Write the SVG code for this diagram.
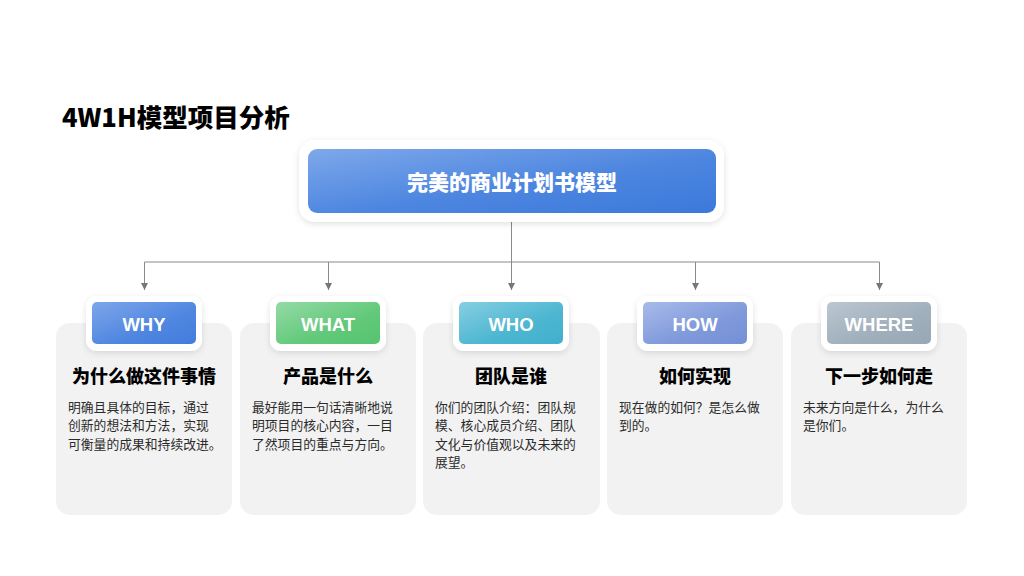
<svg xmlns="http://www.w3.org/2000/svg" width="1024" height="576" viewBox="0 0 1024 576">
<defs>
<style>
.title{font-family:"Noto Sans CJK SC","Liberation Sans",sans-serif;font-weight:900;font-size:25.5px;fill:#000}
.main{font-family:"Noto Sans CJK SC","Liberation Sans",sans-serif;font-weight:900;font-size:21px;fill:#fff;text-anchor:middle}
.badge{font-family:"Liberation Sans","Noto Sans CJK SC",sans-serif;font-weight:700;font-size:18.5px;fill:#fff;text-anchor:middle}
.head{font-family:"Noto Sans CJK SC","Liberation Sans",sans-serif;font-weight:900;font-size:18px;fill:#000;text-anchor:middle}
.body{font-family:"Noto Sans CJK SC","Liberation Sans",sans-serif;font-size:12.8px;fill:#2b2b2b}
.card{fill:#f2f2f2}
.frame{fill:#fff;filter:url(#sh)}
.line{stroke:#8a8a8a;stroke-width:1;fill:none}
</style>
<filter id="sh" x="-20%" y="-30%" width="140%" height="160%">
<feDropShadow dx="0" dy="2" stdDeviation="3" flood-color="#000" flood-opacity="0.12"/>
</filter>
<marker id="arr" viewBox="0 0 10 10" refX="10" refY="5" markerWidth="7" markerHeight="7" markerUnits="userSpaceOnUse" orient="auto">
<path d="M0,0 L10,5 L0,10 z" fill="#777"/>
</marker>
<linearGradient id="gMain" x1="0" y1="0" x2="1" y2="1">
<stop offset="0" stop-color="#7ea8ea"/><stop offset="0.55" stop-color="#4d86e0"/><stop offset="1" stop-color="#3b79da"/>
</linearGradient>
<linearGradient id="gWhy" x1="0" y1="0" x2="1" y2="1">
<stop offset="0" stop-color="#7ea6ea"/><stop offset="0.6" stop-color="#4f86e0"/><stop offset="1" stop-color="#427cdc"/>
</linearGradient>
<linearGradient id="gWhat" x1="0" y1="0" x2="1" y2="1">
<stop offset="0" stop-color="#94dba5"/><stop offset="0.6" stop-color="#62c97a"/><stop offset="1" stop-color="#55c46f"/>
</linearGradient>
<linearGradient id="gWho" x1="0" y1="0" x2="1" y2="1">
<stop offset="0" stop-color="#86cfe2"/><stop offset="0.6" stop-color="#4db6d1"/><stop offset="1" stop-color="#41b0cd"/>
</linearGradient>
<linearGradient id="gHow" x1="0" y1="0" x2="1" y2="1">
<stop offset="0" stop-color="#a8bbea"/><stop offset="0.6" stop-color="#7f99da"/><stop offset="1" stop-color="#7590d6"/>
</linearGradient>
<linearGradient id="gWhere" x1="0" y1="0" x2="1" y2="1">
<stop offset="0" stop-color="#bbc7d1"/><stop offset="0.6" stop-color="#a0afbc"/><stop offset="1" stop-color="#97a7b5"/>
</linearGradient>
</defs>
<rect width="1024" height="576" fill="#fff"/>
<text class="title" x="62" y="127">4W1H模型项目分析</text>

<g id="connectors">
<line class="line" x1="511.5" y1="221" x2="511.5" y2="262"/>
<line class="line" x1="144.5" y1="262" x2="879.5" y2="262"/>
<line class="line" x1="144.5" y1="262" x2="144.5" y2="290" marker-end="url(#arr)"/>
<line class="line" x1="328.5" y1="262" x2="328.5" y2="290" marker-end="url(#arr)"/>
<line class="line" x1="511.5" y1="262" x2="511.5" y2="290" marker-end="url(#arr)"/>
<line class="line" x1="695.5" y1="262" x2="695.5" y2="290" marker-end="url(#arr)"/>
<line class="line" x1="879.5" y1="262" x2="879.5" y2="290" marker-end="url(#arr)"/>
</g>

<g id="root">
<rect class="frame" x="299" y="140" width="425" height="82" rx="16"/>
<rect x="308" y="149" width="408" height="64" rx="9" fill="url(#gMain)"/>
<text class="main" x="512" y="190">完美的商业计划书模型</text>
</g>

<g id="why">
<rect class="card" x="56" y="323" width="176" height="192" rx="14"/>
<rect class="frame" x="86" y="296" width="116" height="55" rx="11"/>
<rect x="92" y="302" width="104" height="42" rx="5" fill="url(#gWhy)"/>
<text class="badge" x="144" y="330.5">WHY</text>
<text class="head" x="144" y="383">为什么做这件事情</text>
<text class="body" x="68" y="411.5">明确且具体的目标，通过</text>
<text class="body" x="68" y="430">创新的想法和方法，实现</text>
<text class="body" x="68" y="448.5">可衡量的成果和持续改进。</text>
</g>

<g id="what">
<rect class="card" x="240" y="323" width="176" height="192" rx="14"/>
<rect class="frame" x="270" y="296" width="116" height="55" rx="11"/>
<rect x="276" y="302" width="104" height="42" rx="5" fill="url(#gWhat)"/>
<text class="badge" x="328" y="330.5">WHAT</text>
<text class="head" x="328" y="383">产品是什么</text>
<text class="body" x="252" y="411.5">最好能用一句话清晰地说</text>
<text class="body" x="252" y="430">明项目的核心内容，一目</text>
<text class="body" x="252" y="448.5">了然项目的重点与方向。</text>
</g>

<g id="who">
<rect class="card" x="423" y="323" width="177" height="192" rx="14"/>
<rect class="frame" x="453" y="296" width="116" height="55" rx="11"/>
<rect x="459" y="302" width="104" height="42" rx="5" fill="url(#gWho)"/>
<text class="badge" x="511" y="330.5">WHO</text>
<text class="head" x="511" y="383">团队是谁</text>
<text class="body" x="435" y="411.5">你们的团队介绍：团队规</text>
<text class="body" x="435" y="430">模、核心成员介绍、团队</text>
<text class="body" x="435" y="448.5">文化与价值观以及未来的</text>
<text class="body" x="435" y="467">展望。</text>
</g>

<g id="how">
<rect class="card" x="607" y="323" width="176" height="192" rx="14"/>
<rect class="frame" x="637" y="296" width="116" height="55" rx="11"/>
<rect x="643" y="302" width="104" height="42" rx="5" fill="url(#gHow)"/>
<text class="badge" x="695" y="330.5">HOW</text>
<text class="head" x="695" y="383">如何实现</text>
<text class="body" x="619" y="411.5">现在做的如何？是怎么做</text>
<text class="body" x="619" y="430">到的。</text>
</g>

<g id="where">
<rect class="card" x="791" y="323" width="176" height="192" rx="14"/>
<rect class="frame" x="821" y="296" width="116" height="55" rx="11"/>
<rect x="827" y="302" width="104" height="42" rx="5" fill="url(#gWhere)"/>
<text class="badge" x="879" y="330.5">WHERE</text>
<text class="head" x="879" y="383">下一步如何走</text>
<text class="body" x="803" y="411.5">未来方向是什么，为什么</text>
<text class="body" x="803" y="430">是你们。</text>
</g>
</svg>
